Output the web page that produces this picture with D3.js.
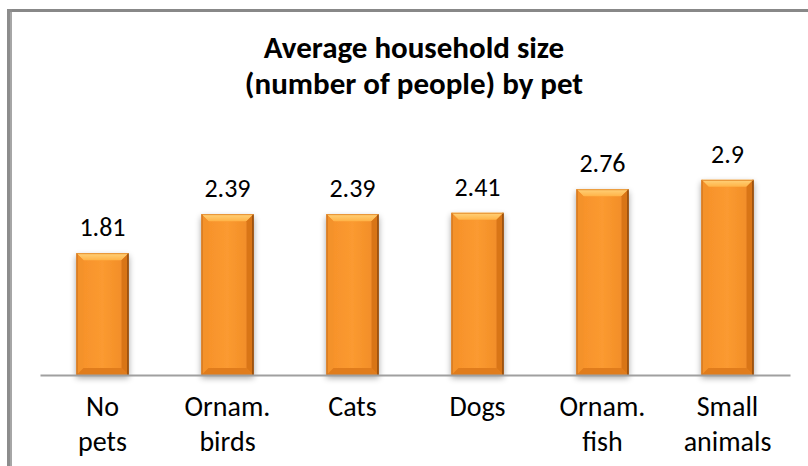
<!DOCTYPE html>
<html>
<head>
<meta charset="utf-8">
<script src="https://cdn.jsdelivr.net/npm/d3@7"></script>
<style>
  html, body { margin: 0; padding: 0; background: #fff; }
  svg { display: block; }
  text { font-family: Carlito, Calibri, Lato, "Open Sans", sans-serif; fill: #000; }
</style>
</head>
<body>
<svg id="chart" width="808" height="466"></svg>
<script>
// ---- data ----
const categories = [["No", "pets"], ["Ornam.", "birds"], ["Cats"], ["Dogs"], ["Ornam.", "fish"], ["Small", "animals"]];
const values = [1.81, 2.39, 2.39, 2.41, 2.76, 2.9];
const valueLabels = ["1.81", "2.39", "2.39", "2.41", "2.76", "2.9"];
const titleLines = ["Average household size", "(number of people) by pet"];

// ---- layout ----
const W = 808, H = 466;
const svg = d3.select("#chart");
const keys = categories.map(c => c.join(" "));

const x = d3.scaleBand().domain(keys).range([40, 790]).paddingInner(0.584).paddingOuter(0.292);
const y = d3.scaleLinear().domain([0, 3.5]).range([375, 375 - 3.5 * 67.3]);

// frame (only top and left edges visible in the crop)
svg.append("rect").attr("x", 7).attr("y", 9).attr("width", W).attr("height", 3).attr("fill", "#888");
svg.append("rect").attr("x", 7).attr("y", 9).attr("width", 5).attr("height", H).attr("fill", "#8c8c8c");
svg.append("rect").attr("x", 10).attr("y", 12).attr("width", 2).attr("height", H).attr("fill", "#a6a6a6");

// title (two separate lines)
svg.append("g").selectAll("text").data(titleLines).join("text")
  .attr("text-anchor", "middle")
  .style("font-weight", "bold").style("font-size", "31px")
  .attr("x", 414).attr("y", (d, i) => 58 + i * 36).text(d => d);

// defs
const defs = svg.append("defs");
const shadow = defs.append("filter").attr("id", "shadow").attr("x", "-30%").attr("y", "-10%").attr("width", "160%").attr("height", "130%");
shadow.append("feGaussianBlur").attr("in", "SourceAlpha").attr("stdDeviation", 3);
shadow.append("feOffset").attr("dx", 0).attr("dy", 3).attr("result", "b");
shadow.append("feComponentTransfer").append("feFuncA").attr("type", "linear").attr("slope", 0.35);
const fm = shadow.append("feMerge");
fm.append("feMergeNode");
fm.append("feMergeNode").attr("in", "SourceGraphic");

const face = defs.append("linearGradient").attr("id", "face").attr("x1", 0).attr("x2", 1).attr("y1", 0).attr("y2", 0);
face.append("stop").attr("offset", "0%").attr("stop-color", "#f6902a");
face.append("stop").attr("offset", "50%").attr("stop-color", "#fb9a30");
face.append("stop").attr("offset", "100%").attr("stop-color", "#ef8a26");

const topG = defs.append("linearGradient").attr("id", "topbev").attr("x1", 0).attr("x2", 0).attr("y1", 0).attr("y2", 1);
topG.append("stop").attr("offset", "0%").attr("stop-color", "#ffd27a");
topG.append("stop").attr("offset", "100%").attr("stop-color", "#ffb347");

// bars
const bv = 7; // bevel size
const bars = svg.append("g").selectAll("g").data(values).join("g")
  .attr("filter", "url(#shadow)");

bars.each(function(v, i) {
  const g = d3.select(this);
  const x0 = x(keys[i]), x1 = x0 + x.bandwidth();
  const y0 = y(v), y1 = y(0);
  const poly = pts => pts.map(p => p.join(",")).join(" ");
  g.append("rect").attr("x", x0).attr("y", y0).attr("width", x1 - x0).attr("height", y1 - y0).attr("fill", "url(#face)");
  g.append("polygon").attr("points", poly([[x0, y0], [x1, y0], [x1 - bv, y0 + bv], [x0 + bv, y0 + bv]])).attr("fill", "url(#topbev)");
  g.append("polygon").attr("points", poly([[x0, y0], [x0 + bv, y0 + bv], [x0 + bv, y1 - bv], [x0, y1]])).attr("fill", "#f4922c");
  g.append("polygon").attr("points", poly([[x1, y0], [x1, y1], [x1 - bv, y1 - bv], [x1 - bv, y0 + bv]])).attr("fill", "#d97418");
  g.append("polygon").attr("points", poly([[x0, y1], [x0 + bv, y1 - bv], [x1 - bv, y1 - bv], [x1, y1]])).attr("fill", "#e07c1e");
  g.append("line").attr("x1", x1 - 0.5).attr("x2", x1 - 0.5).attr("y1", y0).attr("y2", y1).attr("stroke", "#7a3f0c").attr("stroke-width", 1.2);
  g.append("line").attr("x1", x0 + 0.5).attr("x2", x0 + 0.5).attr("y1", y0).attr("y2", y1).attr("stroke", "#c46a18").attr("stroke-width", 1);
  g.append("line").attr("x1", x0).attr("x2", x1).attr("y1", y0 + 0.5).attr("y2", y0 + 0.5).attr("stroke", "#e69030").attr("stroke-width", 1);
});

// axis baseline
const axis = svg.append("g").attr("transform", `translate(0,${y(0)})`)
  .call(d3.axisBottom(x).tickSize(0).tickFormat(""));
axis.select(".domain").attr("stroke", "#a0a0a0").attr("stroke-width", 2);

// value labels
svg.append("g").selectAll("text").data(values).join("text")
  .attr("text-anchor", "middle")
  .attr("x", (d, i) => x(keys[i]) + x.bandwidth() / 2)
  .attr("y", d => y(d) - 17)
  .style("font-size", "26px")
  .text((d, i) => valueLabels[i]);

// category labels
const cl = svg.append("g").selectAll("text").data(categories).join("text")
  .attr("text-anchor", "middle")
  .style("font-size", "28px");
cl.each(function(lines, i) {
  const cx = x(keys[i]) + x.bandwidth() / 2;
  d3.select(this).selectAll("tspan").data(lines).join("tspan")
    .attr("x", cx).attr("y", (d, j) => 416 + j * 35).text(d => d);
});
</script>
</body>
</html>
